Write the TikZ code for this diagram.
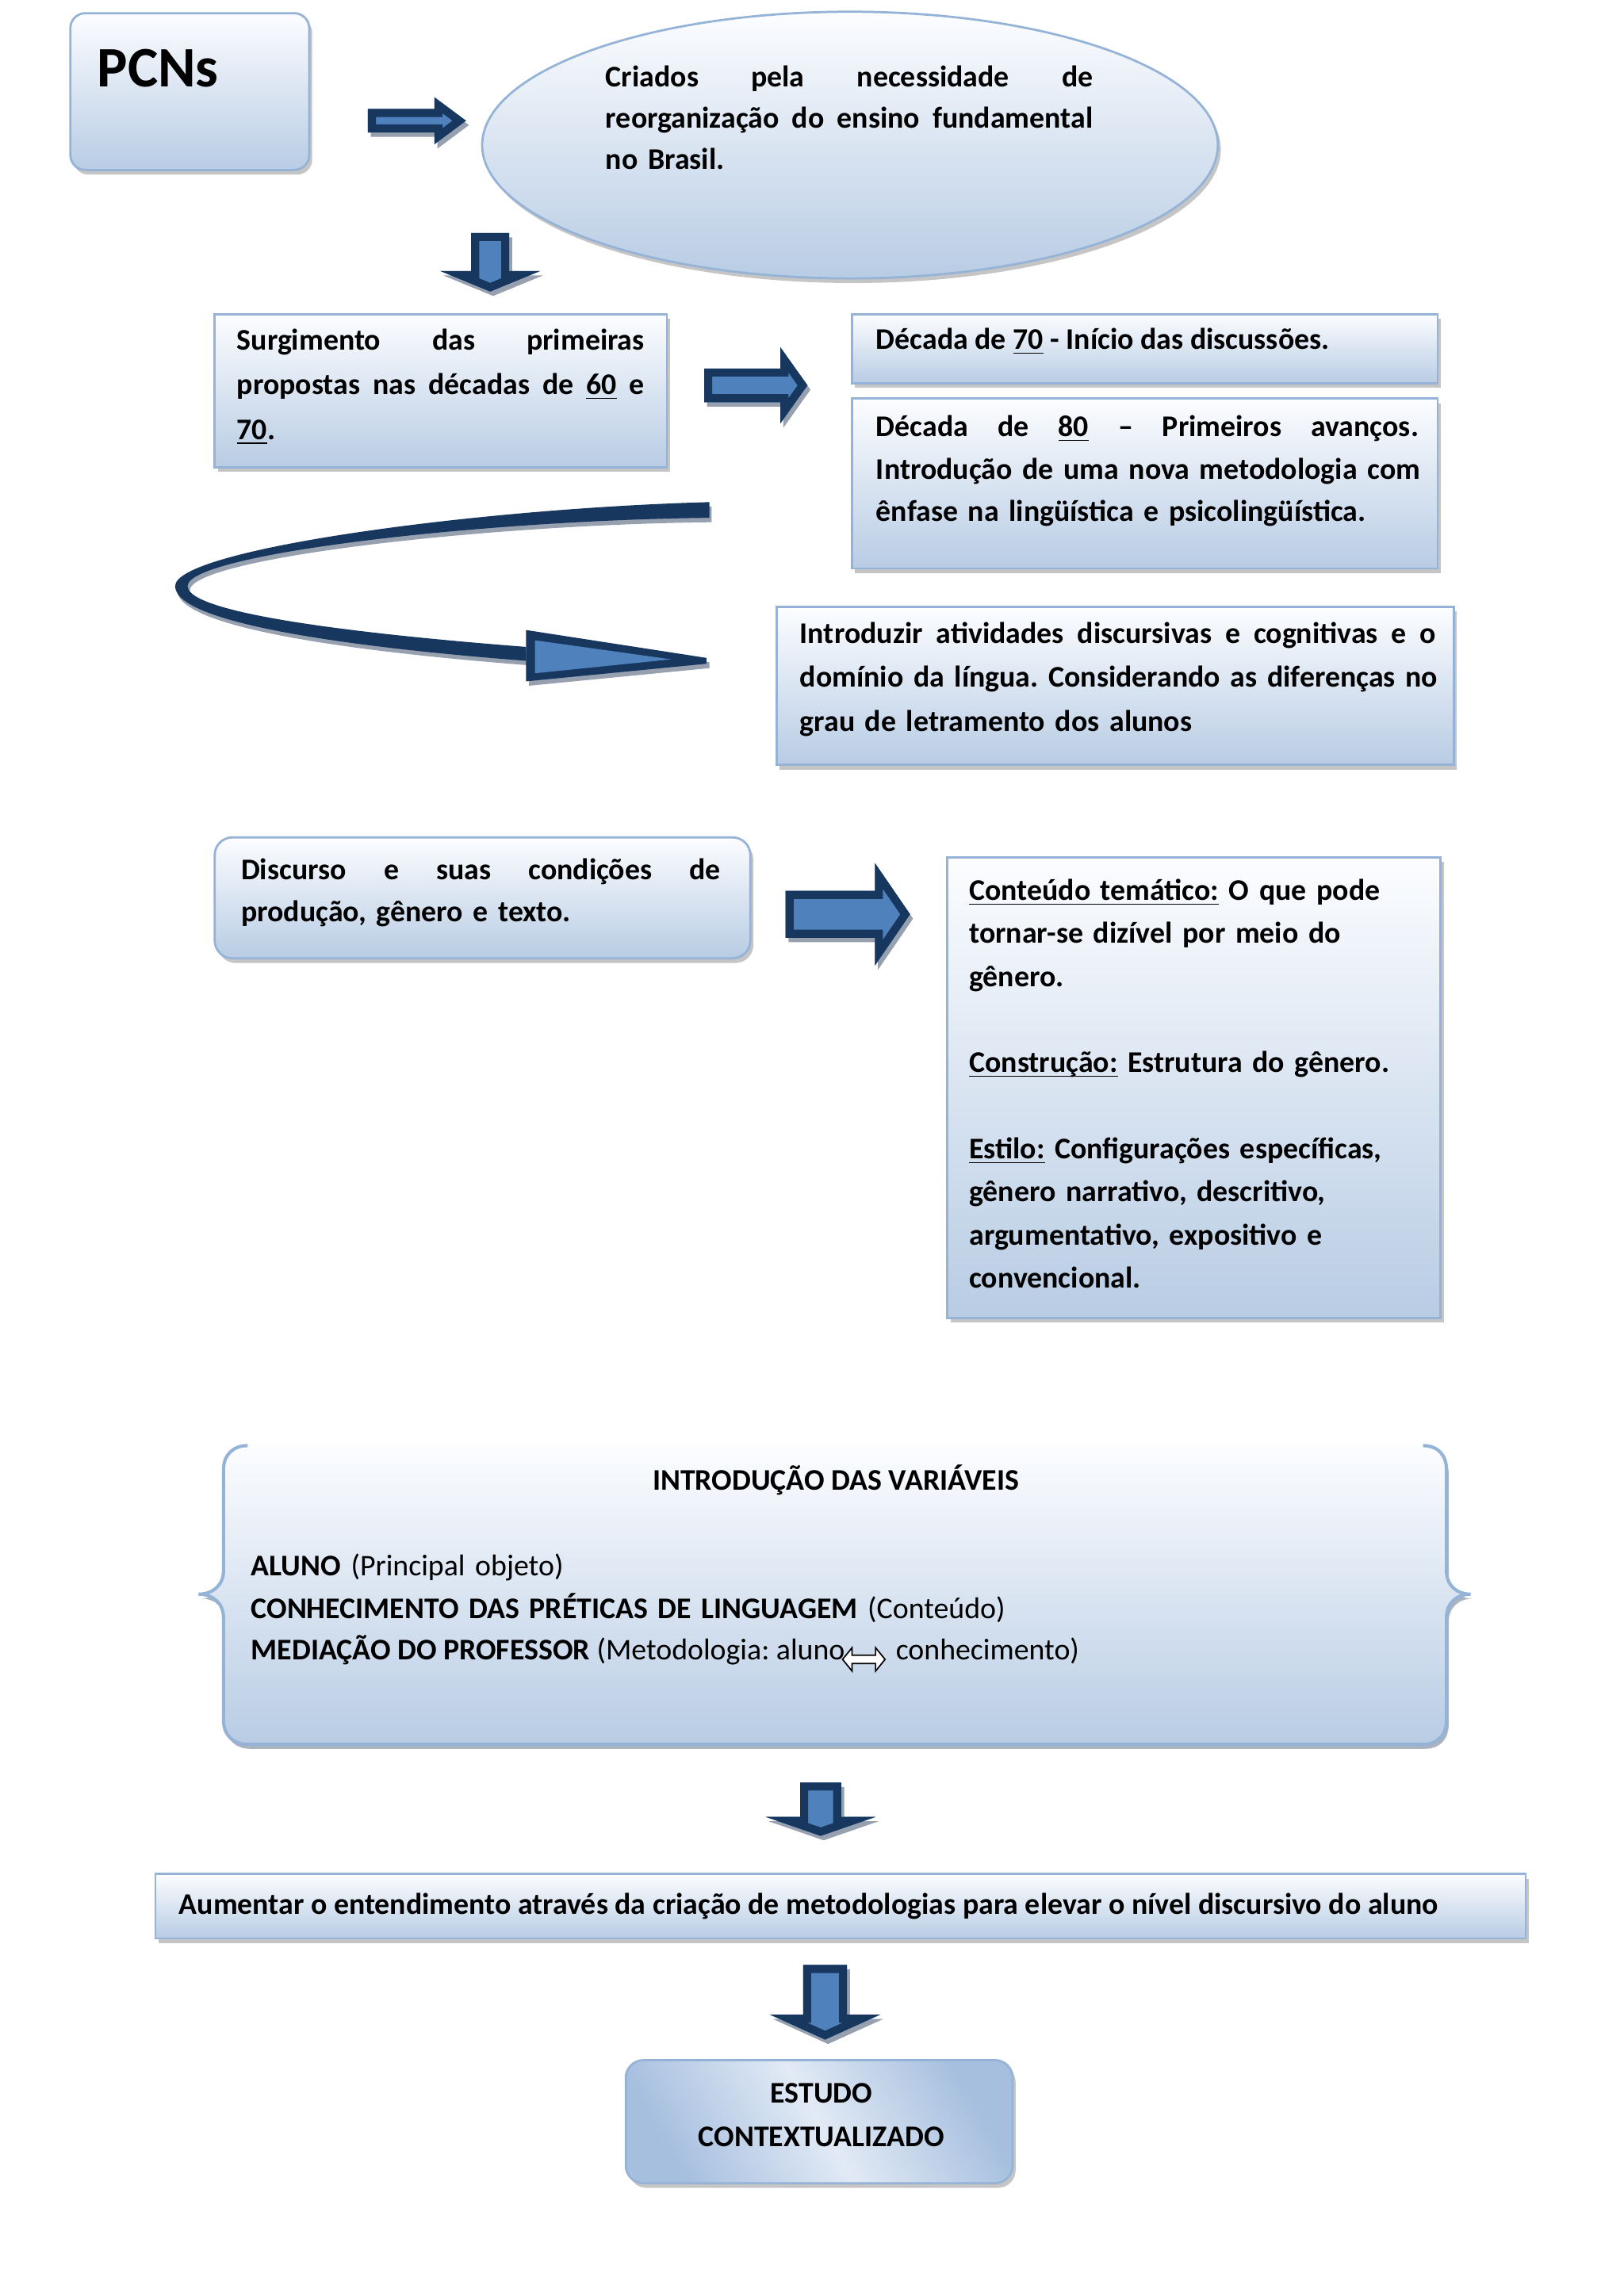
\documentclass[tikz,border=0pt]{standalone}
\usepackage{fontspec}
\setmainfont{Carlito}
\usetikzlibrary{shadows,shapes.geometric,calc}
\definecolor{bdr}{RGB}{149,179,215}
\definecolor{gtop}{RGB}{252,253,255}
\definecolor{gbot}{RGB}{184,204,228}
\definecolor{navy}{RGB}{23,55,94}
\definecolor{lblue}{RGB}{79,129,189}
\definecolor{shd}{RGB}{150,160,175}
\definecolor{estdk}{RGB}{166,191,223}
\definecolor{estlt}{RGB}{226,234,245}
\def\pu{0.5373pt}
\newcommand\ulx[1]{\underline{\smash{#1}}}
\newcommand\jl[2]{\leavevmode\hbox to #1{#2}}
\newcommand\fl{\leavevmode\rule{0pt}{10pt}}
\newcommand\ff[1]{\bfseries\fontsize{11}{#1}\selectfont}
\newcommand\mkbox[6][]{\node[box,#1,minimum width={(#5-#3)*\pu},minimum height={(#6-#4)*\pu}] (#2) at ({(#3+#5)/2},{(#4+#6)/2}) {};}
% right block arrow: x0, yc, xbase, xtip, shaft half, head half
\newcommand\blkR[6]{%
 \def\ap{(#1,#2-#5) -- (#3,#2-#5) -- (#3,#2-#6) -- (#4,#2) -- (#3,#2+#6) -- (#3,#2+#5) -- (#1,#2+#5) -- cycle}%
 \fill[shd,shift={(2,3)}] \ap;
 \fill[lblue] \ap;
 \begin{scope}\clip \ap; \draw[navy,line width=5.9pt,line join=miter] \ap; \end{scope}}
% down block arrow: xc, y0, ybase, ytip, shaft half, head half
\newcommand\blkD[6]{%
 \def\ap{(#1-#5,#2) -- (#1+#5,#2) -- (#1+#5,#3) -- (#1+#6,#3) -- (#1,#4) -- (#1-#6,#3) -- (#1-#5,#3) -- cycle}%
 \fill[shd,shift={(2,3)}] \ap;
 \fill[lblue] \ap;
 \begin{scope}\clip \ap; \draw[navy,line width=5.9pt,line join=miter] \ap; \end{scope}}
\tikzset{
 box/.style={draw=bdr, line width=0.8pt, top color=gtop, bottom color=gbot, inner sep=0pt, outer sep=0pt,
   drop shadow={shadow xshift=1.1pt, shadow yshift=-1.7pt, fill=black!50, opacity=0.45}},
 txt/.style={inner sep=0pt, anchor=north west, align=left},
 one/.style={inner sep=0pt, anchor=base west},
}
\begin{document}
\frenchspacing
\begin{tikzpicture}[x=0.5373pt,y=-0.5373pt]
\fill[white] (0,0) rectangle (1108,1567);
\path[use as bounding box] (0,0) rectangle (1108,1567);

% ---------- boxes ----------
\mkbox[rounded corners=5.5pt]{pcns}{48}{9}{211}{116}
\node[box, ellipse, minimum width={502*\pu}, minimum height={182*\pu}] (ell) at (580,99) {};
\mkbox{surg}{146.5}{214.5}{455}{319}
\mkbox{d70}{581.5}{214.5}{981}{261.5}
\mkbox{d80}{581.5}{272}{981}{388}
\mkbox{intro}{530}{414}{992}{522}
\mkbox[rounded corners=6.5pt]{disc}{146.5}{571.5}{512}{654}
\mkbox{cont}{646.5}{585}{983}{899.5}
\mkbox{aum}{106}{1279}{1041}{1323}
\mkbox[rounded corners=6.5pt, top color=estdk, bottom color=estdk, middle color=estlt, shading angle=-60]{est}{427}{1406}{691}{1490}

% brace-pair box
\def\bfill{(169,986.6) .. controls (159,986.6) and (152.5,993) .. (152.5,1003) -- (152.5,1072)
  .. controls (152.5,1082) and (145,1088) .. (135.5,1088) .. controls (145,1088) and (152.5,1094) .. (152.5,1104)
  -- (152.5,1174) .. controls (152.5,1184) and (159,1190.5) .. (169,1190.5) -- (971,1190.5)
  .. controls (981,1190.5) and (987,1184) .. (987,1174) -- (987,1104)
  .. controls (987,1094) and (994,1088) .. (1003.5,1088) .. controls (994,1088) and (987,1082) .. (987,1072)
  -- (987,1003) .. controls (987,993) and (981,986.6) .. (971,986.6)}
\fill[shd,opacity=0.8,shift={(1.5,3)}] \bfill -- cycle;
\shade[top color=gtop, bottom color=gbot] \bfill -- cycle;
\draw[bdr, line width=1.2pt] \bfill;

% ---------- block arrows ----------
\blkR{251}{82.4}{296.5}{318}{8}{16}
\blkD{334.5}{159}{185}{199}{13}{34}
\blkR{480.5}{263}{532.5}{551}{11.5}{26}
\blkR{536}{624}{597}{621}{16}{35}
\blkD{560}{1216.5}{1240}{1253}{14}{37.5}
\blkD{563}{1341}{1375}{1392}{15}{37.5}

% curved arrow
\def\band{(484,342.7) .. controls (325,347) and (119.5,375) .. (119.5,400)
  .. controls (119.5,427) and (255,443) .. (359,451) -- (359,441.5)
  .. controls (262,434) and (128,420) .. (128,400)
  .. controls (128,378) and (330,355) .. (484,353.4) -- cycle}
\fill[shd,shift={(1.5,3)}] \band;
\fill[navy] \band;
\fill[shd,shift={(2,3)}] (359,430) -- (482,449) -- (482,453) -- (359,465) -- cycle;
\fill[navy] (359,430) -- (482,449) -- (482,453) -- (359,465) -- cycle;
\fill[lblue] (365,437) -- (458,450) -- (365,459.5) -- cycle;

% ---------- texts ----------
\node[one, font=\bfseries\fontsize{21}{25}\selectfont] (tpcns) at (66,59.5) {PCNs};

\node[txt, text width=178.6pt, font=\ff{15.26}] (tell) at (413,58.6-18.6)
 {\fl\jl{178.6pt}{Criados \hfill pela \hfill necessidade \hfill de}\\\jl{178.6pt}{reorganização \hfill do \hfill ensino \hfill fundamental}\\no Brasil.};

\node[txt, text width=149.4pt, font=\ff{16.4}] (tsurg) at (161.3,238.5-18.6)
 {\fl\jl{149.4pt}{Surgimento \hfill das \hfill primeiras}\\\jl{149.4pt}{propostas \hfill nas \hfill décadas \hfill de \hfill \ulx{60} \hfill e}\\\ulx{70}.};

\node[one, font=\ff{13}] (td70) at (597.5,238.5) {Década de \ulx{70} - Início das discussões.};

\node[txt, text width=198.9pt, font=\ff{15.6}] (td80) at (597.5,297.5-18.6)
 {\fl\jl{198.9pt}{Década \hfill de \hfill \ulx{80} \hfill – \hfill Primeiros \hfill avanços.}\\\jl{198.9pt}{Introdução \hfill de \hfill uma \hfill nova \hfill metodologia \hfill com}\\ênfase na lingüística e psicolingüística.};

\node[txt, text width=233.2pt, font=\ff{16.1}] (tintro) at (545.5,438.6-18.6)
 {\fl\jl{233.2pt}{Introduzir \hfill atividades \hfill discursivas \hfill e \hfill cognitivas \hfill e \hfill o}\\\jl{233.2pt}{domínio \hfill da \hfill língua. \hfill Considerando \hfill as \hfill diferenças \hfill no}\\grau de letramento dos alunos};

\node[txt, text width=175.8pt, font=\ff{15.6}] (tdisc) at (164.2,599.8-18.6)
 {\fl\jl{175.8pt}{Discurso \hfill e \hfill suas \hfill condições \hfill de}\\produção, gênero e texto.};

\node[txt, text width=172pt, font=\ff{15.8}] (tcont) at (661,614-18.6)
 {\fl\ulx{Conteúdo temático:} O que pode\\tornar-se dizível por meio do\\gênero.\\\mbox{}\\\ulx{Construção:} Estrutura do gênero.\\\mbox{}\\\ulx{Estilo:} Configurações específicas,\\gênero narrativo, descritivo,\\argumentativo, expositivo e\\convencional.};

\node[inner sep=0pt, anchor=base, font=\ff{13}] (tvar) at (570.4,1017) {INTRODUÇÃO DAS VARIÁVEIS};
\node[txt, text width=420pt, font=\fontsize{11}{15.6}\selectfont] (tal) at (171,1075-18.6)
 {\fl\textbf{ALUNO} (Principal objeto)\\\textbf{CONHECIMENTO DAS PRÉTICAS DE LINGUAGEM} (Conteúdo)};
\node[one, font=\fontsize{11}{13}\selectfont] (tmed1) at (171,1132.5) {\textbf{MEDIAÇÃO DO PROFESSOR} (Metodologia: aluno};
\begin{scope}[shift={($(tmed1.base east)+(-2,0)$)}]
\draw[fill=white, line width=0.5pt, line join=miter] (0,0) -- (6.5,-8) -- (6.5,-2.8) -- (22.5,-2.8) -- (22.5,-8) -- (29,0) -- (22.5,8) -- (22.5,2.8) -- (6.5,2.8) -- (6.5,8) -- cycle;
\end{scope}
\node[one, font=\fontsize{11}{13}\selectfont] (tmed2) at ($(tmed1.base east)+(34,0)$) {conhecimento)};

\node[one, font=\ff{13}] (taum) at (121.8,1306.6) {Aumentar o entendimento através da criação de metodologias para elevar o nível discursivo do aluno};

\node[inner sep=0pt, anchor=north, align=center, font=\ff{15.85}] (test) at (560.5,1435-18.6)
 {\rule{0pt}{10pt}ESTUDO\\CONTEXTUALIZADO};
\end{tikzpicture}
\end{document}
